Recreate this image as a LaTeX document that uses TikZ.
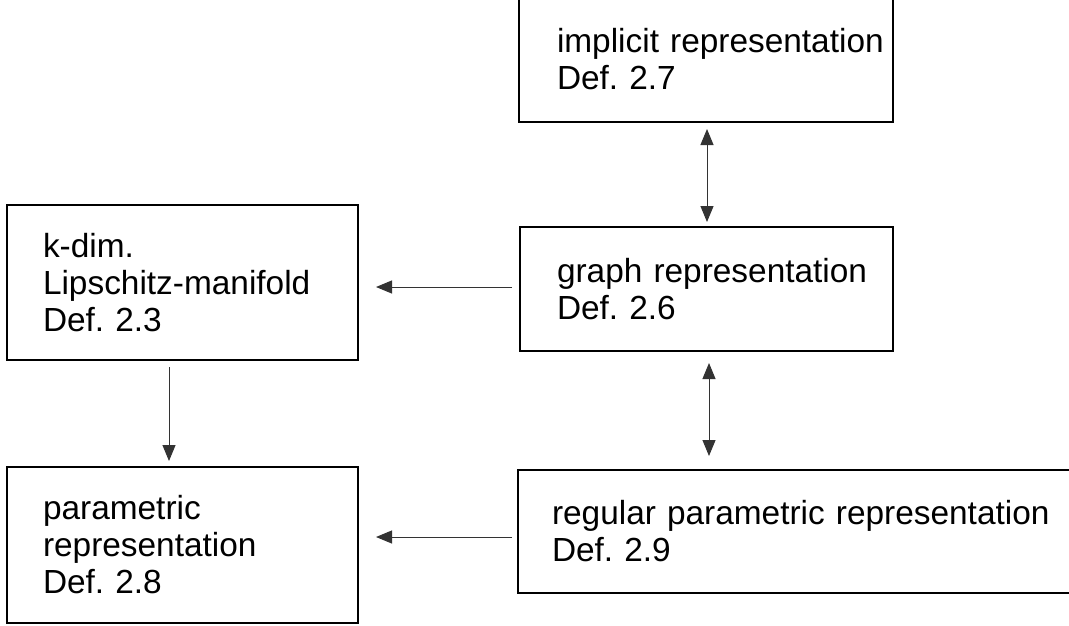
\documentclass[tikz,border=0pt]{standalone}
\usepackage{fontspec}
\setmainfont{Liberation Sans}
\usetikzlibrary{arrows.meta}
\frenchspacing
\begin{document}
\begin{tikzpicture}[x=1pt,y=-1pt,
  box/.style={draw=black, line width=2pt, rectangle, align=left, inner ysep=0pt,
    font=\fontsize{33.4pt}{37pt}\selectfont},
  link/.style={draw=black!80, line width=1pt, -{Triangle[length=16pt,width=13pt]}},
  dlink/.style={draw=black!80, line width=1pt, {Triangle[length=16pt,width=13pt]}-{Triangle[length=16pt,width=13pt]}}]
\useasboundingbox (0,0) rectangle (1069,625);
\node[box, minimum width=374pt, minimum height=126pt, inner xsep=38pt, text width=298pt] (impl) at (706,59)
  {\mbox{implicit representation}\\Def. 2.7};
\node[box, minimum width=373pt, minimum height=124pt, inner xsep=37pt, text width=299pt] (graph) at (706.5,289)
  {\mbox{graph representation}\\Def. 2.6};
\node[box, minimum width=351pt, minimum height=155pt, inner xsep=36pt, text width=279pt] (kdim) at (182.5,282.5)
  {k-dim.\\\mbox{Lipschitz-manifold}\\Def. 2.3};
\node[box, minimum width=351pt, minimum height=156pt, inner xsep=36pt, text width=279pt] (param) at (182.5,545)
  {parametric\\representation\\Def. 2.8};
\node[box, minimum width=552pt, minimum height=123pt, inner xsep=34pt, text width=484pt] (reg) at (794,531.5)
  {\mbox{regular parametric representation}\\Def. 2.9};
\draw[dlink, shorten <=6pt, shorten >=4pt] ([xshift=1pt]impl.south) -- ([xshift=1pt]impl.south |- graph.north);
\draw[dlink, shorten <=11pt, shorten >=13pt] ([xshift=2.5pt]graph.south) -- ([xshift=2.5pt]graph.south |- reg.north);
\draw[link, shorten <=7pt, shorten >=17pt] ([yshift=2pt]graph.west) -- ([yshift=2pt]graph.west -| kdim.east);
\draw[link, shorten <=6pt, shorten >=5pt] ([xshift=-13.5pt]kdim.south) -- ([xshift=-13.5pt]kdim.south |- param.north);
\draw[link, shorten <=5pt, shorten >=17pt] ([yshift=-5.5pt]reg.west) -- ([yshift=-5.5pt]reg.west -| param.east);
\end{tikzpicture}
\end{document}
